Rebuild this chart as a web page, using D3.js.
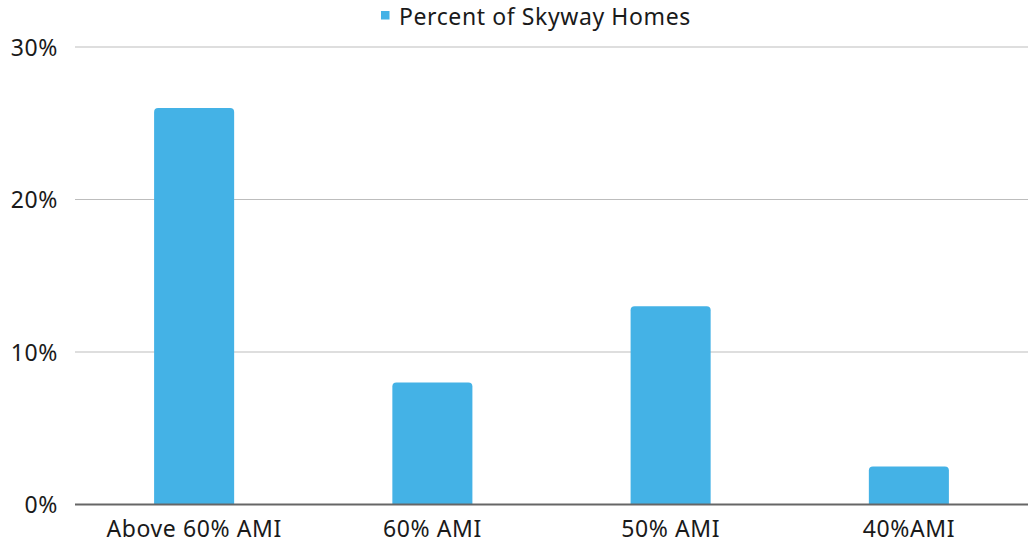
<!DOCTYPE html>
<html>
<head>
<meta charset="utf-8">
<script src="https://cdn.jsdelivr.net/npm/d3@7"></script>
<style>
  html, body { margin: 0; padding: 0; background: #fff; }
  svg { display: block; font-family: "Noto Sans", "Open Sans", sans-serif; }
</style>
</head>
<body>
<svg id="chart" width="1030" height="544"></svg>
<script>
// Share of Skyway homes by income band
const categories = ["Above 60% AMI", "60% AMI", "50% AMI", "40%AMI"];
const percentValues = [26, 8, 13, 2.5];
const yTicks = [0, 10, 20, 30];
const seriesName = "Percent of Skyway Homes";

const svg = d3.select("#chart");
const plotLeft = 75, plotRight = 1028, plotTop = 47, plotBottom = 504.5;
const barColor = "#44b2e6";
const fontSize = 23;
const tracking = 0.6;

const x = d3.scaleBand()
  .domain(categories)
  .range([plotLeft, plotRight])
  .paddingInner(0.664)
  .paddingOuter(0.332);

const y = d3.scaleLinear().domain([0, 30]).range([plotBottom, plotTop]);

// Horizontal gridlines
svg.append("g")
  .selectAll("line")
  .data(yTicks.filter(t => t > 0))
  .join("line")
  .attr("x1", plotLeft).attr("x2", plotRight)
  .attr("y1", d => y(d)).attr("y2", d => y(d))
  .attr("stroke", "#bdbdbd").attr("stroke-width", 1);

// Y tick labels
svg.append("g")
  .selectAll("text")
  .data(yTicks)
  .join("text")
  .attr("x", 58)
  .attr("y", d => y(d) + 8.5)
  .attr("text-anchor", "end")
  .attr("font-size", fontSize)
  .attr("letter-spacing", tracking)
  .attr("fill", "#1a1a1a")
  .text(d => d + "%");

// Bars with slightly rounded top corners
const r = 4;
svg.append("g")
  .selectAll("path")
  .data(categories.map((c, i) => ({ c, v: percentValues[i] })))
  .join("path")
  .attr("fill", barColor)
  .attr("d", d => {
    const x0 = x(d.c), x1 = x0 + x.bandwidth();
    const yt = y(d.v), yb = y(0);
    return `M${x0},${yb} L${x0},${yt + r} Q${x0},${yt} ${x0 + r},${yt} L${x1 - r},${yt} Q${x1},${yt} ${x1},${yt + r} L${x1},${yb} Z`;
  });

// Baseline
svg.append("line")
  .attr("x1", plotLeft).attr("x2", plotRight)
  .attr("y1", y(0)).attr("y2", y(0))
  .attr("stroke", "#666").attr("stroke-width", 2);

// Category labels
svg.append("g")
  .selectAll("text")
  .data(categories)
  .join("text")
  .attr("x", d => x(d) + x.bandwidth() / 2)
  .attr("y", 537)
  .attr("text-anchor", "middle")
  .attr("font-size", fontSize)
  .attr("letter-spacing", tracking)
  .attr("fill", "#1a1a1a")
  .text(d => d);

// Legend
const lg = svg.append("g");
lg.append("rect")
  .attr("x", 381).attr("y", 11).attr("width", 8.5).attr("height", 8.5)
  .attr("fill", barColor);
lg.append("text")
  .attr("x", 399).attr("y", 25)
  .attr("font-size", fontSize)
  .attr("letter-spacing", tracking)
  .attr("fill", "#1a1a1a")
  .text(seriesName);
</script>
</body>
</html>
